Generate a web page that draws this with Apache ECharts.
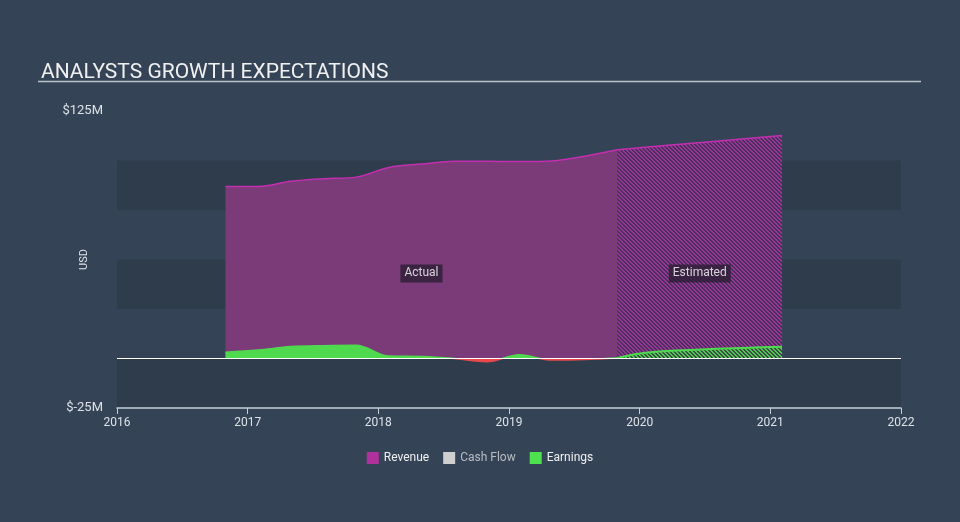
<!DOCTYPE html>
<html>
<head>
<meta charset="utf-8">
<script src="https://cdn.jsdelivr.net/npm/echarts@6/dist/echarts.min.js"></script>
<style>
  html, body { margin: 0; padding: 0; background: #344456; }
  #chart { width: 960px; height: 522px; }
</style>
</head>
<body>
<div id="chart"></div>
<script>
// ---- data ----
var actualDates = [2016.83, 2017.08, 2017.33, 2017.58, 2017.83, 2018.08, 2018.33, 2018.58, 2018.83, 2019.08, 2019.33, 2019.58, 2019.83];
var revenueActual = [86.9, 86.9, 89.5, 90.8, 91.6, 96.5, 98.2, 99.6, 99.6, 99.5, 99.8, 102.2, 105.4];
var earningsActual = [3.2, 4.3, 6.0, 6.5, 6.7, 1.2, 1.0, 0.0, -1.6, 1.9, -0.8, -0.5, 0.3];

var estimateDates = [2019.83, 2020.08, 2021.09];
var revenueEstimate = [105.4, 106.9, 112.6];
var earningsEstimate = [0.3, 3.2, 5.9];

var yLabels = { '125': '$125M', '-25': '$-25M' };

var regionLabels = ['Actual', 'Estimated'];
var regionLabelX = [2018.33, 2020.46];
var regionLabelY = [44, 44];

function pairs(xs, ys) { return xs.map(function (x, i) { return [x, ys[i]]; }); }

function hatch(bg, fg) {
  var c = document.createElement('canvas');
  c.width = 4; c.height = 4;
  var ctx = c.getContext('2d');
  ctx.fillStyle = bg; ctx.fillRect(0, 0, 4, 4);
  ctx.fillStyle = fg;
  for (var i = 0; i < 4; i++) {
    ctx.fillRect(i, i, 1, 1);
    ctx.fillRect((i + 1) % 4, i, 1, 1);
  }
  return c;
}

var GREEN = '#4fd94f', RED = '#e8484b';

var chart = echarts.init(document.getElementById('chart'), null, { renderer: 'canvas' });

var option = {
  backgroundColor: '#344456',
  animation: false,
  textStyle: { fontFamily: 'Roboto, sans-serif' },
  title: {
    text: 'ANALYSTS GROWTH EXPECTATIONS',
    left: 36, top: 57,
    textStyle: { color: '#f0f0f0', fontSize: 21, fontWeight: 'normal', fontFamily: 'Roboto, sans-serif' }
  },
  graphic: [{
    type: 'line', shape: { x1: 38, y1: 81.5, x2: 921, y2: 81.5 },
    style: { stroke: '#b9c0c8', lineWidth: 1.5 }, silent: true
  }],
  grid: { left: 117, right: 59, top: 111, bottom: 114 },
  legend: {
    bottom: 53, left: 'center', icon: 'rect', itemWidth: 12, itemHeight: 12, itemGap: 14,
    textStyle: { color: '#f0f0f0', fontSize: 12 },
    data: [
      { name: 'Revenue', itemStyle: { color: '#b0309c' } },
      { name: 'Cash Flow', itemStyle: { color: '#cfcfcf' }, textStyle: { color: '#b8bcc2' } },
      { name: 'Earnings', itemStyle: { color: '#4fe04f' } }
    ],
    selectedMode: false
  },
  xAxis: {
    type: 'value', min: 2016, max: 2022, interval: 1,
    axisLine: { show: true, onZero: false, lineStyle: { color: '#c6ced6', width: 1.5 } },
    axisTick: { show: true, length: 6, lineStyle: { color: '#c6ced6' } },
    axisLabel: { color: '#dde2e6', fontSize: 12, margin: 9, formatter: function (v) { return String(v); } },
    splitLine: { show: false }
  },
  yAxis: {
    type: 'value', min: -25, max: 125, interval: 25,
    name: 'USD', nameLocation: 'middle', nameGap: 27, nameRotate: 90, nameMoveOverlap: false,
    nameTextStyle: { color: '#dde2e6', fontSize: 11 },
    axisLine: { show: false }, axisTick: { show: false },
    axisLabel: {
      color: '#dde2e6', fontSize: 13, margin: 14,
      formatter: function (v) { return yLabels[String(v)] || ''; }
    },
    splitLine: { show: false },
    splitArea: { show: true, areaStyle: { color: ['#2e3c4c', 'rgba(0,0,0,0)'] } }
  },
  series: [
    {
      name: 'Revenue', type: 'line', smooth: 0.35, symbol: 'none',
      data: pairs(actualDates, revenueActual),
      lineStyle: { color: '#c42fb2', width: 1.5 },
      itemStyle: { color: '#b0309c' },
      areaStyle: { color: '#7b3a78', opacity: 1 },
      markLine: {
        silent: true, symbol: 'none', label: { show: false },
        lineStyle: { color: '#ffffff', width: 1.2, type: 'solid' },
        data: [{ yAxis: 0 }]
      },
      z: 2
    },
    {
      name: 'Revenue', type: 'line', smooth: 0.2, symbol: 'none',
      data: pairs(estimateDates, revenueEstimate),
      lineStyle: { color: '#c42fb2', width: 1.5 },
      itemStyle: { color: '#b0309c' },
      areaStyle: { color: { image: hatch('#47315a', '#9a3598'), repeat: 'repeat' }, opacity: 1 },
      z: 2
    },
    {
      name: 'Cash Flow', type: 'line', symbol: 'none', data: [],
      itemStyle: { color: '#cfcfcf' }
    },
    {
      name: 'Earnings', type: 'line', smooth: 0.35, symbol: 'none',
      data: pairs(actualDates, earningsActual),
      lineStyle: { width: 1.5, color: GREEN },
      itemStyle: { color: '#4fe04f' },
      areaStyle: { opacity: 1, color: GREEN },
      z: 3
    },
    {
      name: 'Earnings', type: 'line', smooth: 0.35, symbol: 'none',
      data: pairs(estimateDates, earningsEstimate),
      lineStyle: { color: GREEN, width: 2 },
      itemStyle: { color: '#4fe04f' },
      areaStyle: { color: { image: hatch('#3c4a48', '#4fc84f'), repeat: 'repeat' }, opacity: 1 },
      z: 3
    },
    {
      name: 'labels', type: 'scatter', symbolSize: 1, silent: true,
      itemStyle: { color: 'rgba(0,0,0,0)' },
      data: regionLabels.map(function (t, i) { return { value: [regionLabelX[i], regionLabelY[i]], name: t }; }),
      label: {
        show: true, position: 'inside', offset: [0, 2], formatter: '{b}',
        color: '#ffffff', fontSize: 12, backgroundColor: '#2b1f35',
        padding: [3, 4, 3, 4]
      },
      z: 5
    }
  ]
};
chart.setOption(option);

// colour earnings below zero red: gradient split at the pixel of y = 0 from the axis scale
var yTop = chart.convertToPixel({ yAxisIndex: 0 }, 125);
var yBot = chart.convertToPixel({ yAxisIndex: 0 }, -25);
var yZero = chart.convertToPixel({ yAxisIndex: 0 }, 0);
var f = (yZero - yTop) / (yBot - yTop);
function splitGrad() {
  return {
    type: 'linear', x: 0, y: yTop, x2: 0, y2: yBot, global: true,
    colorStops: [
      { offset: 0, color: GREEN }, { offset: f, color: GREEN },
      { offset: f, color: RED }, { offset: 1, color: RED }
    ]
  };
}
chart.setOption({
  series: [{}, {}, {}, {
    lineStyle: { color: splitGrad() },
    areaStyle: { color: splitGrad(), opacity: 1 }
  }]
});
</script>
</body>
</html>
